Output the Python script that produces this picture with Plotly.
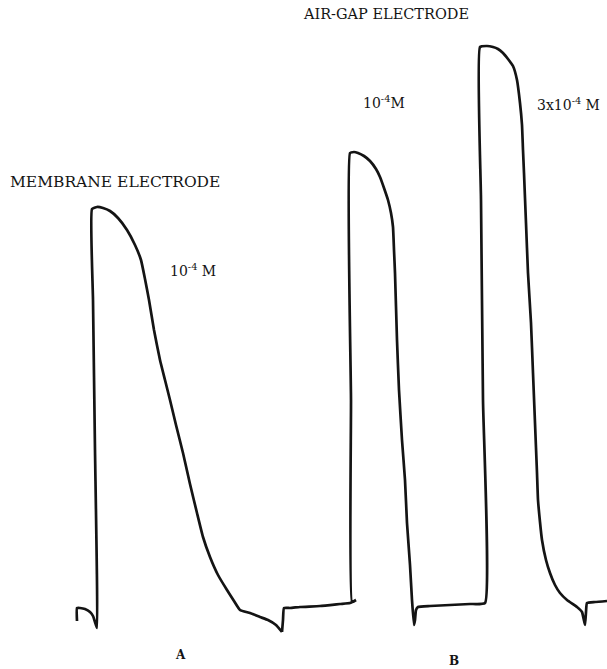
import plotly.graph_objects as go

# Recorder trace A: membrane electrode response to 1e-4 M (time, pen deflection)
t_membrane = [77, 77, 80, 85, 90, 93, 95, 97, 95, 93, 92, 97, 103, 110, 118, 127, 135,
              141, 145, 149, 154, 160, 165, 170, 176, 183, 190, 197, 203, 210, 218,
              227, 234, 240, 250, 260, 268, 276, 282]
v_membrane = [48, 61, 61, 60, 57, 53, 47, 41, 219, 369, 460, 462, 461, 458, 451, 439, 424,
              409, 390, 369, 339, 309, 289, 269, 244, 216, 185, 156, 132, 112, 94,
              79, 68, 59, 56, 52, 49, 44, 37]

# Recorder trace B: air-gap electrode, 1e-4 M then 3e-4 M
t_airgap = [282, 283, 284, 290, 300, 320, 340, 350, 356, 352, 351, 350, 354, 358, 364, 370,
            376, 380, 384, 388, 391, 393, 394, 395, 397, 399, 402, 405, 407, 410, 412,
            414, 415, 416, 418, 430, 450, 470, 485, 483, 481, 480, 487, 493, 498, 503,
            508, 513, 517, 520, 522, 523, 524, 526, 528, 531, 533, 535, 537, 538, 540,
            542, 546, 550, 555, 560, 567, 577, 582, 585, 586, 587, 595, 607]
v_airgap = [37, 49, 61, 61, 62, 63, 65, 66, 69, 67, 269, 516, 517, 516, 513, 508,
            500, 492, 481, 469, 456, 442, 419, 396, 329, 279, 229, 189, 146, 104, 69,
            44, 49, 59, 62, 63, 64, 65, 66, 269, 469, 622, 623, 622, 620, 616,
            610, 603, 589, 566, 544, 519, 496, 446, 396, 346, 296, 246, 196, 169, 147,
            129, 109, 96, 84, 76, 69, 62, 57, 44, 57, 66, 67, 68]

# Text labels: (text, t, v, size)
labels = [
    ("AIR-GAP ELECTRODE", 386, 655, 14.5),
    ("MEMBRANE ELECTRODE", 115, 487, 15.5),
    ("10<sup>-4</sup>M", 384, 567, 14),
    ("3x10<sup>-4</sup> M", 568, 565, 14),
    ("10<sup>-4</sup> M", 193, 399, 14),
    ("<b>A</b>", 180, 14, 12),
    ("<b>B</b>", 454, 8, 12),
]

INK = "#141414"
SERIF = "DejaVu Serif"

fig = go.Figure()
for t, v in ((t_membrane, v_membrane), (t_airgap, v_airgap)):
    fig.add_trace(go.Scatter(
        x=t, y=v, mode="lines",
        line=dict(color=INK, width=2.7, shape="spline", smoothing=0.4),
        hoverinfo="skip", showlegend=False,
    ))

for text, x, y, size in labels:
    fig.add_annotation(
        x=x, y=y, xref="x", yref="y", text=text, showarrow=False,
        font=dict(family=SERIF, size=size, color=INK),
        xanchor="center", yanchor="middle",
    )

fig.update_xaxes(range=[0, 607], visible=False, fixedrange=True)
fig.update_yaxes(range=[0, 669], visible=False, fixedrange=True)
fig.update_layout(
    width=607, height=669,
    margin=dict(l=0, r=0, t=0, b=0),
    paper_bgcolor="white", plot_bgcolor="white",
    showlegend=False,
)

fig.write_html("out.html", config={"displayModeBar": False})
